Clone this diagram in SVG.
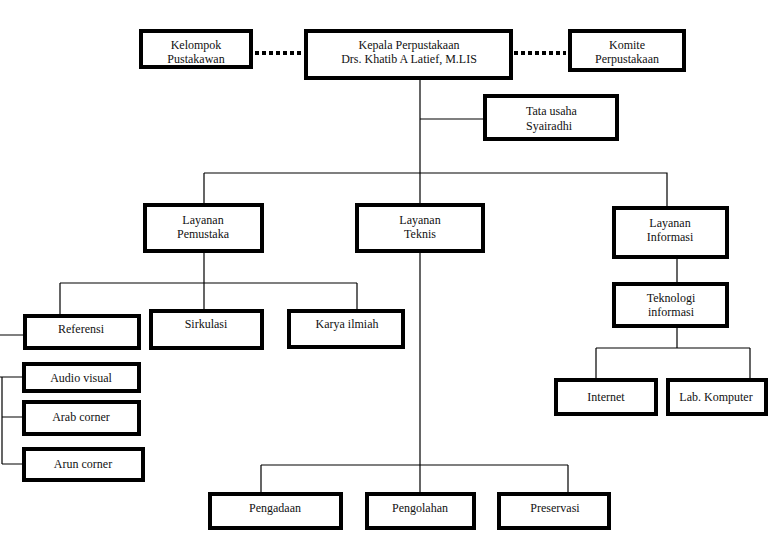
<svg xmlns="http://www.w3.org/2000/svg" width="770" height="538" viewBox="0 0 770 538">
<style>
.b{fill:#fff;stroke:#000;stroke-width:4}
.t{font-family:"Liberation Serif","Times New Roman",serif;font-size:12px;fill:#111;text-anchor:middle}
.tl{font-family:"Liberation Serif","Times New Roman",serif;font-size:12px;fill:#111}
.c{fill:none;stroke:#000;stroke-width:1.2}
.d{fill:none;stroke:#000;stroke-width:4;stroke-dasharray:4 3}
</style>
<rect width="770" height="538" fill="#fff"/>
<g id="connectors">
<path class="d" d="M255 53H302M514 53H566"/>
<path class="c" d="M420 80V173M420 119H485M204 173H667V208M204 173V205M420 173V205"/>
<path class="c" d="M204 252V309M60 283H357M60 283V316M357 283V311"/>
<path class="c" d="M677 259V284M677 328V348M596 348H750M596 348V380M750 348V380"/>
<path class="c" d="M0 335H24M0 377H24M2 377V464M2 417H22M2 464H24"/>
<path class="c" d="M420 252V494M261 465H568M261 465V494M568 465V494"/>
</g>
<g id="kelompok"><rect class="b" x="141" y="31" width="110" height="36"/><text class="t" x="196" y="49">Kelompok</text><text class="t" x="196" y="63">Pustakawan</text></g>
<g id="kepala"><rect class="b" x="306" y="31" width="205" height="47"/><text class="t" x="409" y="49">Kepala Perpustakaan</text><text class="t" x="409" y="63">Drs. Khatib A Latief, M.LIS</text></g>
<g id="komite"><rect class="b" x="570" y="31" width="114" height="39"/><text class="t" x="627" y="49">Komite</text><text class="t" x="627" y="63">Perpustakaan</text></g>
<g id="tatausaha"><rect class="b" x="485" y="96" width="132" height="43"/><text class="tl" x="526" y="115">Tata usaha</text><text class="tl" x="526" y="130">Syairadhi</text></g>
<g id="pemustaka"><rect class="b" x="145" y="205" width="117" height="46"/><text class="t" x="203" y="224">Layanan</text><text class="t" x="203" y="238">Pemustaka</text></g>
<g id="teknis"><rect class="b" x="357" y="205" width="126" height="46"/><text class="t" x="420" y="224">Layanan</text><text class="t" x="420" y="238">Teknis</text></g>
<g id="informasi"><rect class="b" x="614" y="208" width="113" height="49"/><text class="t" x="670" y="227">Layanan</text><text class="t" x="670" y="241">Informasi</text></g>
<g id="teknologi"><rect class="b" x="614" y="284" width="113" height="42"/><text class="t" x="671" y="302">Teknologi</text><text class="t" x="671" y="316">informasi</text></g>
<g id="referensi"><rect class="b" x="25" y="316" width="114" height="32"/><text class="t" x="81" y="333">Referensi</text></g>
<g id="sirkulasi"><rect class="b" x="151" y="311" width="111" height="37"/><text class="t" x="206" y="328">Sirkulasi</text></g>
<g id="karya"><rect class="b" x="289" y="311" width="114" height="36"/><text class="t" x="347" y="328">Karya ilmiah</text></g>
<g id="audio"><rect class="b" x="24" y="364" width="115" height="27"/><text class="t" x="81" y="382">Audio visual</text></g>
<g id="arab"><rect class="b" x="24" y="402" width="115" height="32"/><text class="t" x="81" y="421">Arab corner</text></g>
<g id="arun"><rect class="b" x="24" y="449" width="119" height="31"/><text class="t" x="83" y="468">Arun corner</text></g>
<g id="internet"><rect class="b" x="556" y="380" width="100" height="34"/><text class="t" x="606" y="401">Internet</text></g>
<g id="labkomputer"><rect class="b" x="668" y="380" width="98" height="34"/><text class="t" x="716" y="401">Lab. Komputer</text></g>
<g id="pengadaan"><rect class="b" x="210" y="494" width="131" height="34"/><text class="t" x="275" y="512">Pengadaan</text></g>
<g id="pengolahan"><rect class="b" x="367" y="494" width="107" height="34"/><text class="t" x="420" y="512">Pengolahan</text></g>
<g id="preservasi"><rect class="b" x="499" y="494" width="110" height="34"/><text class="t" x="555" y="512">Preservasi</text></g>
</svg>
